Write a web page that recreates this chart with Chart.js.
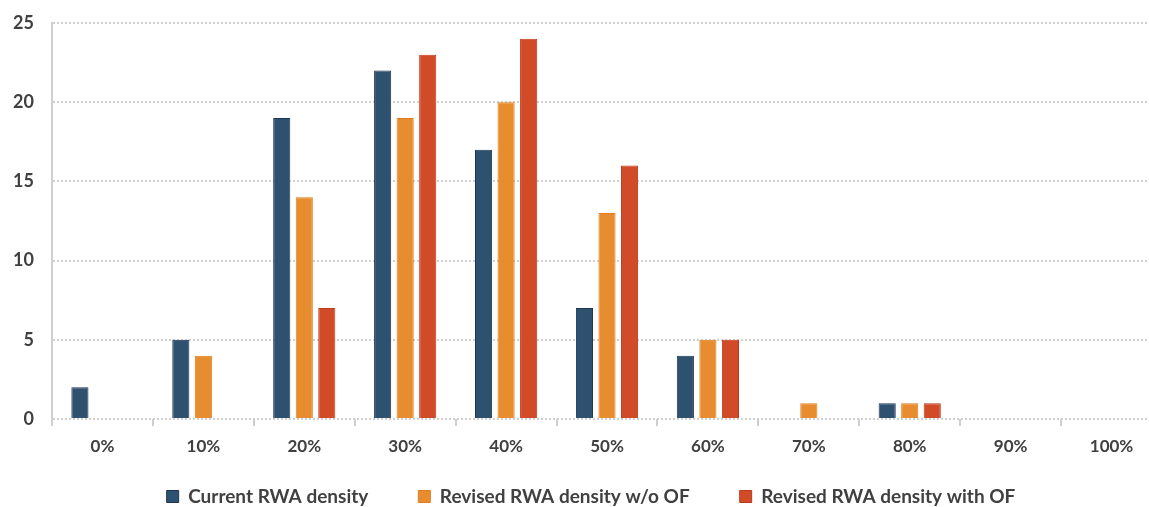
<!DOCTYPE html>
<html>
<head>
<meta charset="utf-8">
<script src="https://cdn.jsdelivr.net/npm/chart.js@4"></script>
<style>
  html, body { margin: 0; padding: 0; background: #fff; overflow: hidden; }
  #chart { display: block; }
</style>
</head>
<body>
<canvas id="chart" width="1170" height="507"></canvas>
<script>
const categories = ['0%', '10%', '20%', '30%', '40%', '50%', '60%', '70%', '80%', '90%', '100%'];
const currentDensity = [2, 5, 19, 22, 17, 7, 4, 0, 1, 0, 0];
const revisedNoOF = [0, 4, 14, 19, 20, 13, 5, 1, 1, 0, 0];
const revisedWithOF = [0, 0, 7, 23, 24, 16, 5, 0, 1, 0, 0];
const seriesNames = ['Current RWA density', 'Revised RWA density w/o OF', 'Revised RWA density with OF'];

const textColor = '#404040';
const gridColor = '#cfcfcf';

const makeSet = (label, data, fill, border) => ({
  label,
  data,
  backgroundColor: fill,
  borderColor: border,
  borderWidth: 1,
  borderSkipped: 'bottom',
  categoryPercentage: 0.67,
  barPercentage: 0.76,
});

// nudge the legend: a bit right of centre and up towards the axis labels
// (legend clips to its own box, so only the top edge moves)
const moveLegend = {
  id: 'moveLegend',
  afterLayout(chart) {
    const lg = chart.legend;
    lg.left += 10;
    lg.right += 10;
    lg.top -= 22;
  },
};

const ctx = document.getElementById('chart').getContext('2d');

new Chart(ctx, {
  type: 'bar',
  data: {
    labels: categories,
    datasets: [
      makeSet(seriesNames[0], currentDensity, '#2e5170', '#1c3651'),
      makeSet(seriesNames[1], revisedNoOF, '#e88d2f', '#e07d1c'),
      makeSet(seriesNames[2], revisedWithOF, '#d24b29', '#be3a1a'),
    ],
  },
  options: {
    responsive: false,
    animation: false,
    layout: { padding: { left: 0, right: 8, top: 23, bottom: 0 } },
    plugins: {
      tooltip: { enabled: false },
      legend: {
        position: 'bottom',
        maxHeight: 48,
        labels: {
          color: textColor,
          font: { family: 'Lato', size: 19, weight: 'bold' },
          boxWidth: 12,
          boxHeight: 12,
          padding: 50,
        },
      },
    },
    scales: {
      x: {
        afterFit: (scale) => { scale.height = 40; },
        grid: {
          drawOnChartArea: false,
          drawTicks: true,
          tickLength: 7,
          color: gridColor,
          lineWidth: 2,
        },
        border: { display: false },
        ticks: {
          color: textColor,
          font: { family: 'Lato', size: 17, weight: 'bold' },
          padding: 10,
        },
      },
      y: {
        min: 0,
        max: 25,
        afterFit: (scale) => {
          scale.width = 52;
          scale.paddingTop = 0;
          scale.paddingBottom = 0;
        },
        grid: {
          color: gridColor,
          lineWidth: 2,
          drawTicks: false,
        },
        border: { display: true, color: gridColor, width: 2, dash: [2, 2] },
        ticks: {
          stepSize: 5,
          color: textColor,
          font: { family: 'Lato', size: 18, weight: 'bold' },
          padding: 18,
        },
      },
    },
  },
  plugins: [moveLegend],
});
</script>
</body>
</html>
